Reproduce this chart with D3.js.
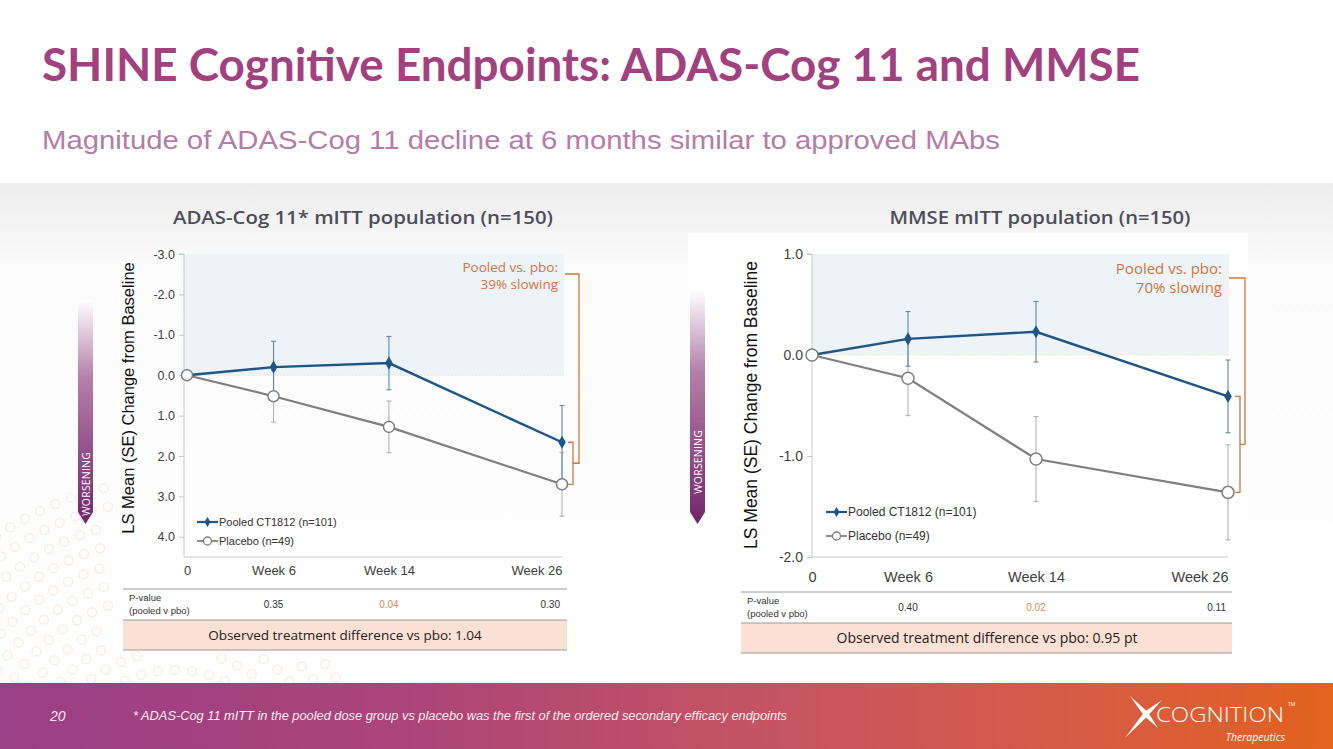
<!DOCTYPE html>
<html><head><meta charset="utf-8">
<script src="https://cdn.jsdelivr.net/npm/d3@7"></script>
<style>
html,body{margin:0;padding:0;background:#fff;}
svg{display:block;}
</style></head>
<body>
<svg id="c" width="1333" height="749"></svg>
<script>
// ---------------- DATA ----------------
const weeks = [0, 6, 14, 26];
const xLabels = ["0", "Week 6", "Week 14", "Week 26"];
const seriesNames = ["Pooled CT1812 (n=101)", "Placebo (n=49)"];

const adasTicks = [-3, -2, -1, 0, 1, 2, 3, 4];
const adasPooled = [0, -0.20, -0.30, 1.66];
const adasPooledSE = [0, 0.64, 0.66, 0.91];
const adasPlacebo = [0, 0.52, 1.28, 2.70];
const adasPlaceboSE = [0, 0.64, 0.64, 0.79];
const adasPvalues = ["0.35", "0.04", "0.30"];

const mmseTicks = [1, 0, -1, -2];
const mmsePooled = [0, 0.16, 0.23, -0.41];
const mmsePooledSE = [0, 0.27, 0.30, 0.36];
const mmsePlacebo = [0, -0.23, -1.03, -1.36];
const mmsePlaceboSE = [0, 0.37, 0.42, 0.47];
const mmsePvalues = ["0.40", "0.02", "0.11"];

// ---------------- PAGE ----------------
const svg = d3.select("#c");
const defs = svg.append("defs");

const bgGrad = defs.append("linearGradient").attr("id","bgG").attr("x1",0).attr("x2",0).attr("y1",0).attr("y2",1);
bgGrad.append("stop").attr("offset","0").attr("stop-color","#ececec");
bgGrad.append("stop").attr("offset","0.16").attr("stop-color","#fbfbfb");
bgGrad.append("stop").attr("offset","1").attr("stop-color","#ffffff");

const footGrad = defs.append("linearGradient").attr("id","footG").attr("x1",0).attr("x2",1).attr("y1",0).attr("y2",0);
[["0","#993f87"],["0.3","#ab4479"],["0.6","#c75560"],["0.85","#d95c3e"],["1","#e3621c"]].forEach(s=>
  footGrad.append("stop").attr("offset",s[0]).attr("stop-color",s[1]));

const worsGrad = defs.append("linearGradient").attr("id","wG").attr("x1",0).attr("x2",0).attr("y1",0).attr("y2",1);
worsGrad.append("stop").attr("offset","0").attr("stop-color","#ffffff");
worsGrad.append("stop").attr("offset","0.35").attr("stop-color","#b47fa9");
worsGrad.append("stop").attr("offset","1").attr("stop-color","#72256a");

svg.append("rect").attr("x",0).attr("y",0).attr("width",1333).attr("height",749).attr("fill","#fff");
svg.append("rect").attr("x",0).attr("y",183).attr("width",1333).attr("height",500).attr("fill","url(#bgG)");

// decorative faint dot rings (bottom-left)
const dots = svg.append("g").attr("fill","none").attr("stroke","#fbebe5").attr("stroke-width",1.3);
const ringCenter = [175, 790];
for (let k = 0; k < 11; k++) {
  const R = 120 + k * 19;
  const n = Math.round(2 * Math.PI * R / 17);
  for (let i = 0; i < n; i++) {
    const a = (i / n) * 2 * Math.PI;
    const cx = ringCenter[0] + R * Math.cos(a), cy = ringCenter[1] + R * Math.sin(a);
    if (cy < 683 && cy > 480 && cx > -5 && cx < 340) {
      if (cx > 112 && cy < 655) continue;
      dots.append("circle").attr("cx",cx).attr("cy",cy).attr("r",4.5);
    }
  }
}
svg.append("rect").attr("x",688).attr("y",233).attr("width",560).attr("height",432).attr("fill","#fff");

// Title
svg.append("text").attr("x",42).attr("y",81)
  .attr("font-family","Lato, 'Open Sans', sans-serif").attr("font-weight",700).attr("font-size",45)
  .attr("fill","#a1417f").attr("textLength",1098).attr("lengthAdjust","spacingAndGlyphs")
  .text("SHINE Cognitive Endpoints: ADAS-Cog 11 and MMSE");
svg.append("text").attr("x",42).attr("y",149)
  .attr("font-family","'Liberation Sans', Arial, sans-serif").attr("font-size",25)
  .attr("fill","#b47ca8").attr("textLength",958).attr("lengthAdjust","spacingAndGlyphs")
  .text("Magnitude of ADAS-Cog 11 decline at 6 months similar to approved MAbs");

// ---------------- CHART ----------------
function drawChart(cfg) {
  const g = svg.append("g");
  const x = d3.scaleLinear().domain([0, 26]).range([cfg.x0, cfg.x1]);
  const y = d3.scaleLinear().domain(cfg.yDomain).range([cfg.yTop, cfg.yBot]);

  // chart title
  g.append("text").attr("x",cfg.titleX).attr("y",224).attr("text-anchor","middle")
    .attr("font-family","'Open Sans', sans-serif").attr("font-weight",600).attr("font-size",18)
    .attr("fill","#4d4d5a").attr("textLength",cfg.titleW).attr("lengthAdjust","spacingAndGlyphs")
    .text(cfg.title);

  // improvement shading
  g.append("rect").attr("x",cfg.axisX).attr("y",y(cfg.yDomain[0]))
    .attr("width",cfg.shadeX1 - cfg.axisX).attr("height",y(0) - y(cfg.yDomain[0]))
    .attr("fill","#edf3f7");
  g.append("line").attr("x1",cfg.axisX).attr("x2",cfg.shadeX1).attr("y1",y(0)).attr("y2",y(0))
    .attr("stroke","#f1e9c6").attr("stroke-width",1).attr("stroke-dasharray","2,1");

  // y axis
  const fmt = d => d3.format(".1f")(d).replace("\u2212","-");
  const yAxis = d3.axisLeft(y).tickValues(cfg.ticks).tickFormat(fmt).tickSize(5).tickPadding(4);
  const ya = g.append("g").attr("transform",`translate(${cfg.axisX},0)`).call(yAxis);
  ya.select(".domain").attr("stroke","#c8c8c8").attr("d",`M-5,${cfg.yTop}H0V${cfg.yBot}`);
  ya.selectAll(".tick line").attr("stroke","#c8c8c8");
  ya.selectAll(".tick text").attr("font-family","'Liberation Sans', Arial, sans-serif")
    .attr("font-size",cfg.tickFont).attr("fill","#404040");

  // x axis
  const xAxis = d3.axisBottom(x).tickValues(weeks).tickFormat((d,i)=>xLabels[i]).tickSize(0).tickPadding(cfg.xPad);
  const xa = g.append("g").attr("transform",`translate(0,${cfg.yBot})`).call(xAxis);
  xa.select(".domain").attr("stroke","#c8c8c8").attr("d",`M${cfg.axisX},0H${cfg.x1}`);
  xa.selectAll(".tick text").attr("font-family","'Liberation Sans', Arial, sans-serif")
    .attr("font-size",cfg.xFont).attr("fill","#404040")
    .attr("text-anchor",(d,i)=> i === weeks.length - 1 ? "end" : "middle");

  // y axis label
  g.append("text").attr("transform",`translate(${cfg.ylabX},${cfg.ylabY}) rotate(-90)`)
    .attr("text-anchor","middle").attr("font-family","'Liberation Sans', Arial, sans-serif")
    .attr("font-size",cfg.ylabFont).attr("fill","#111")
    .text("LS Mean (SE) Change from Baseline");

  // error bars
  const series = [
    {vals: cfg.placebo, se: cfg.placeboSE, color: "#b3b3b3"},
    {vals: cfg.pooled, se: cfg.pooledSE, color: "#5d87ad"}
  ];
  series.forEach(s => {
    weeks.forEach((w,i) => {
      if (s.se[i] === 0) return;
      const yl = y(s.vals[i] - s.se[i]), yh = y(s.vals[i] + s.se[i]);
      g.append("line").attr("x1",x(w)).attr("x2",x(w)).attr("y1",yl).attr("y2",yh)
        .attr("stroke",s.color).attr("stroke-width",1.1);
      [yl, yh].forEach(yy => g.append("line").attr("x1",x(w)-2.5).attr("x2",x(w)+2.5)
        .attr("y1",yy).attr("y2",yy).attr("stroke",s.color).attr("stroke-width",1.1));
    });
  });

  // lines
  const line = d3.line().x((d,i)=>x(weeks[i])).y(d=>y(d));
  g.append("path").attr("d",line(cfg.placebo)).attr("fill","none").attr("stroke","#7f7f7f").attr("stroke-width",2.2);
  g.append("path").attr("d",line(cfg.pooled)).attr("fill","none").attr("stroke","#1e5587").attr("stroke-width",2.4);

  // markers
  const diamond = d3.symbol().type(d3.symbolDiamond).size(50);
  cfg.pooled.forEach((v,i)=> g.append("path").attr("d",diamond())
    .attr("transform",`translate(${x(weeks[i])},${y(v)})`).attr("fill","#1e5587"));
  cfg.placebo.forEach((v,i)=> g.append("circle").attr("cx",x(weeks[i])).attr("cy",y(v)).attr("r",cfg.circR)
    .attr("fill","#fff").attr("stroke","#808080").attr("stroke-width",1.5));

  // legend
  const lg = g.append("g").attr("font-family","'Liberation Sans', Arial, sans-serif")
    .attr("font-size",cfg.legFont).attr("fill","#333");
  lg.append("line").attr("x1",cfg.legX).attr("x2",cfg.legX+cfg.legW).attr("y1",cfg.legY1).attr("y2",cfg.legY1)
    .attr("stroke","#1e5587").attr("stroke-width",2.2);
  lg.append("path").attr("d",d3.symbol().type(d3.symbolDiamond).size(30)())
    .attr("transform",`translate(${cfg.legX+cfg.legW/2},${cfg.legY1})`).attr("fill","#1e5587");
  lg.append("text").attr("x",cfg.legX+cfg.legW+1).attr("y",cfg.legY1).attr("dy","0.35em").text(seriesNames[0]);
  lg.append("line").attr("x1",cfg.legX).attr("x2",cfg.legX+cfg.legW).attr("y1",cfg.legY2).attr("y2",cfg.legY2)
    .attr("stroke","#808080").attr("stroke-width",1.8);
  lg.append("circle").attr("cx",cfg.legX+cfg.legW/2).attr("cy",cfg.legY2).attr("r",4)
    .attr("fill","#fff").attr("stroke","#808080").attr("stroke-width",1.3);
  lg.append("text").attr("x",cfg.legX+cfg.legW+1).attr("y",cfg.legY2).attr("dy","0.35em").text(seriesNames[1]);

  // annotation
  const orange = "#d0763e";
  const ann = g.append("text").attr("text-anchor","end").attr("font-family","'Open Sans', sans-serif")
    .attr("font-size",cfg.annFont).attr("fill",orange);
  ann.append("tspan").attr("x",cfg.annX).attr("y",cfg.annY).text("Pooled vs. pbo:");
  ann.append("tspan").attr("x",cfg.annX).attr("y",cfg.annY+cfg.annGap).text(cfg.slowing);

  // brackets
  const i26 = weeks.length - 1;
  const ySmallTop = y(cfg.pooled[i26]), ySmallBot = y(cfg.placebo[i26]);
  const ySmallMid = (ySmallTop + ySmallBot) / 2;
  g.append("path").attr("fill","none").attr("stroke",orange).attr("stroke-width",1.3)
    .attr("d",`M${cfg.sbX-5},${ySmallTop}H${cfg.sbX}V${ySmallBot}H${cfg.sbX-5}`);
  g.append("path").attr("fill","none").attr("stroke",orange).attr("stroke-width",1.3)
    .attr("d",`M${cfg.bbX0},${cfg.bbTop}H${cfg.bbX}V${ySmallMid}H${cfg.sbX}`);

  // P-value table
  const t = g.append("g");
  t.append("line").attr("x1",cfg.tX0).attr("x2",cfg.tX1).attr("y1",cfg.tY).attr("y2",cfg.tY).attr("stroke","#9a9a9a").attr("stroke-width",1);
  t.append("rect").attr("x",cfg.tX0).attr("y",cfg.tY+31).attr("width",cfg.tX1-cfg.tX0).attr("height",30).attr("fill","#fbe1d4");
  t.append("line").attr("x1",cfg.tX0).attr("x2",cfg.tX1).attr("y1",cfg.tY+31).attr("y2",cfg.tY+31).attr("stroke","#9a9a9a").attr("stroke-width",1);
  t.append("line").attr("x1",cfg.tX0).attr("x2",cfg.tX1).attr("y1",cfg.tY+61).attr("y2",cfg.tY+61).attr("stroke","#9a9a9a").attr("stroke-width",1);
  const pl = t.append("text").attr("font-family","'Liberation Sans', Arial, sans-serif").attr("font-size",cfg.pFont).attr("fill","#333");
  pl.append("tspan").attr("x",cfg.tX0+6).attr("y",cfg.tY+12).text("P-value");
  pl.append("tspan").attr("x",cfg.tX0+6).attr("y",cfg.tY+25).text("(pooled v pbo)");
  cfg.pvals.forEach((p,i) => {
    const xi = x(weeks[i+1]);
    t.append("text").attr("x", i === cfg.pvals.length-1 ? xi - 2 : xi)
      .attr("y",cfg.tY+19).attr("text-anchor", i === cfg.pvals.length-1 ? "end" : "middle")
      .attr("font-family","'Liberation Sans', Arial, sans-serif").attr("font-size",cfg.pFont+0.5)
      .attr("fill", i === 1 ? "#d98c55" : "#333").text(p);
  });
  t.append("text").attr("x",cfg.diffX).attr("y",cfg.tY+51).attr("text-anchor","middle")
    .attr("font-family","'Open Sans', sans-serif").attr("font-size",cfg.diffFont).attr("fill","#222")
    .text(cfg.diffText);

  // worsening arrow
  const w = g.append("g");
  w.append("path").attr("fill","url(#wG)")
    .attr("d",`M${cfg.wX},${cfg.wTop}H${cfg.wX+15}V${cfg.wBot}L${cfg.wX+7.5},${cfg.wBot+12}L${cfg.wX},${cfg.wBot}Z`);
  w.append("text").attr("transform",`translate(${cfg.wX+11.5},${cfg.wTextY}) rotate(-90)`)
    .attr("text-anchor","middle").attr("font-family","'Open Sans', sans-serif").attr("font-size",10.5)
    .attr("fill","#fff").attr("letter-spacing",0.2).text("WORSENING");
}

drawChart({
  title: "ADAS-Cog 11* mITT population (n=150)", titleX: 363, titleW: 380,
  x0: 187, x1: 562, axisX: 184, shadeX1: 564,
  yDomain: [-3, 4.5], yTop: 254, yBot: 557, ticks: adasTicks,
  tickFont: 12.5, xFont: 13, xPad: 9,
  ylabX: 134, ylabY: 398, ylabFont: 16.5,
  pooled: adasPooled, pooledSE: adasPooledSE, placebo: adasPlacebo, placeboSE: adasPlaceboSE,
  circR: 5.5,
  legX: 197, legW: 21, legY1: 522, legY2: 541, legFont: 11,
  annX: 558, annY: 272, annGap: 17, annFont: 13.5, slowing: "39% slowing",
  sbX: 573, bbX: 579, bbX0: 565, bbTop: 274,
  tX0: 123, tX1: 567, tY: 589, pFont: 9.5, pvals: adasPvalues,
  diffX: 345, diffFont: 13.5, diffText: "Observed treatment difference vs pbo: 1.04",
  wX: 78, wTop: 300, wBot: 512, wTextY: 484
});

drawChart({
  title: "MMSE mITT population (n=150)", titleX: 1040, titleW: 301,
  x0: 812, x1: 1228, axisX: 812, shadeX1: 1229,
  yDomain: [1, -2], yTop: 254, yBot: 557, ticks: mmseTicks,
  tickFont: 14, xFont: 14.5, xPad: 15,
  ylabX: 757, ylabY: 405, ylabFont: 17.5,
  pooled: mmsePooled, pooledSE: mmsePooledSE, placebo: mmsePlacebo, placeboSE: mmsePlaceboSE,
  circR: 6,
  legX: 826, legW: 21, legY1: 512, legY2: 536, legFont: 12,
  annX: 1222, annY: 274, annGap: 19, annFont: 15, slowing: "70% slowing",
  sbX: 1240, bbX: 1245, bbX0: 1229, bbTop: 278,
  tX0: 741, tX1: 1232, tY: 592, pFont: 9.5, pvals: mmsePvalues,
  diffX: 987, diffFont: 14, diffText: "Observed treatment difference vs pbo: 0.95 pt",
  wX: 690, wTop: 290, wBot: 512, wTextY: 462
});

// ---------------- FOOTER ----------------
svg.append("rect").attr("x",0).attr("y",683).attr("width",1333).attr("height",66).attr("fill","url(#footG)");
svg.append("text").attr("x",50).attr("y",721).attr("font-family","'Liberation Sans Narrow','Liberation Sans', Arial, sans-serif")
  .attr("font-style","italic").attr("font-size",14).attr("fill","#f6e8f1").text("20");
svg.append("text").attr("x",133).attr("y",720).attr("font-family","'Liberation Sans Narrow','Liberation Sans', Arial, sans-serif")
  .attr("font-style","italic").attr("font-size",12).attr("fill","#fbeef0")
  .attr("textLength",654).attr("lengthAdjust","spacingAndGlyphs")
  .text("* ADAS-Cog 11 mITT in the pooled dose group vs placebo was the first of the ordered secondary efficacy endpoints");

// logo
const logo = svg.append("g").attr("fill","#fff");
const cx = 1146, cy = 714;
const spikes = [[1130,696],[1125,738],[1162,700],[1158,728]];
spikes.forEach(p => {
  const dx = p[0]-cx, dy = p[1]-cy, L = Math.hypot(dx,dy);
  const nx = -dy/L*2.6, ny = dx/L*2.6;
  logo.append("path").attr("d",`M${cx+nx},${cy+ny}L${p[0]},${p[1]}L${cx-nx},${cy-ny}Z`);
});
logo.append("circle").attr("cx",cx).attr("cy",cy).attr("r",3);
logo.append("text").attr("x",1156).attr("y",722).attr("font-family","'Open Sans', sans-serif").attr("font-weight",300)
  .attr("font-size",21).attr("textLength",128).attr("lengthAdjust","spacingAndGlyphs").text("COGNITION");
logo.append("text").attr("x",1288).attr("y",706).attr("font-family","'Open Sans', sans-serif").attr("font-size",5).text("TM");
logo.append("text").attr("x",1285).attr("y",741).attr("text-anchor","end").attr("font-family","'Open Sans', sans-serif")
  .attr("font-style","italic").attr("font-size",10.5).text("Therapeutics");
</script>
</body></html>
